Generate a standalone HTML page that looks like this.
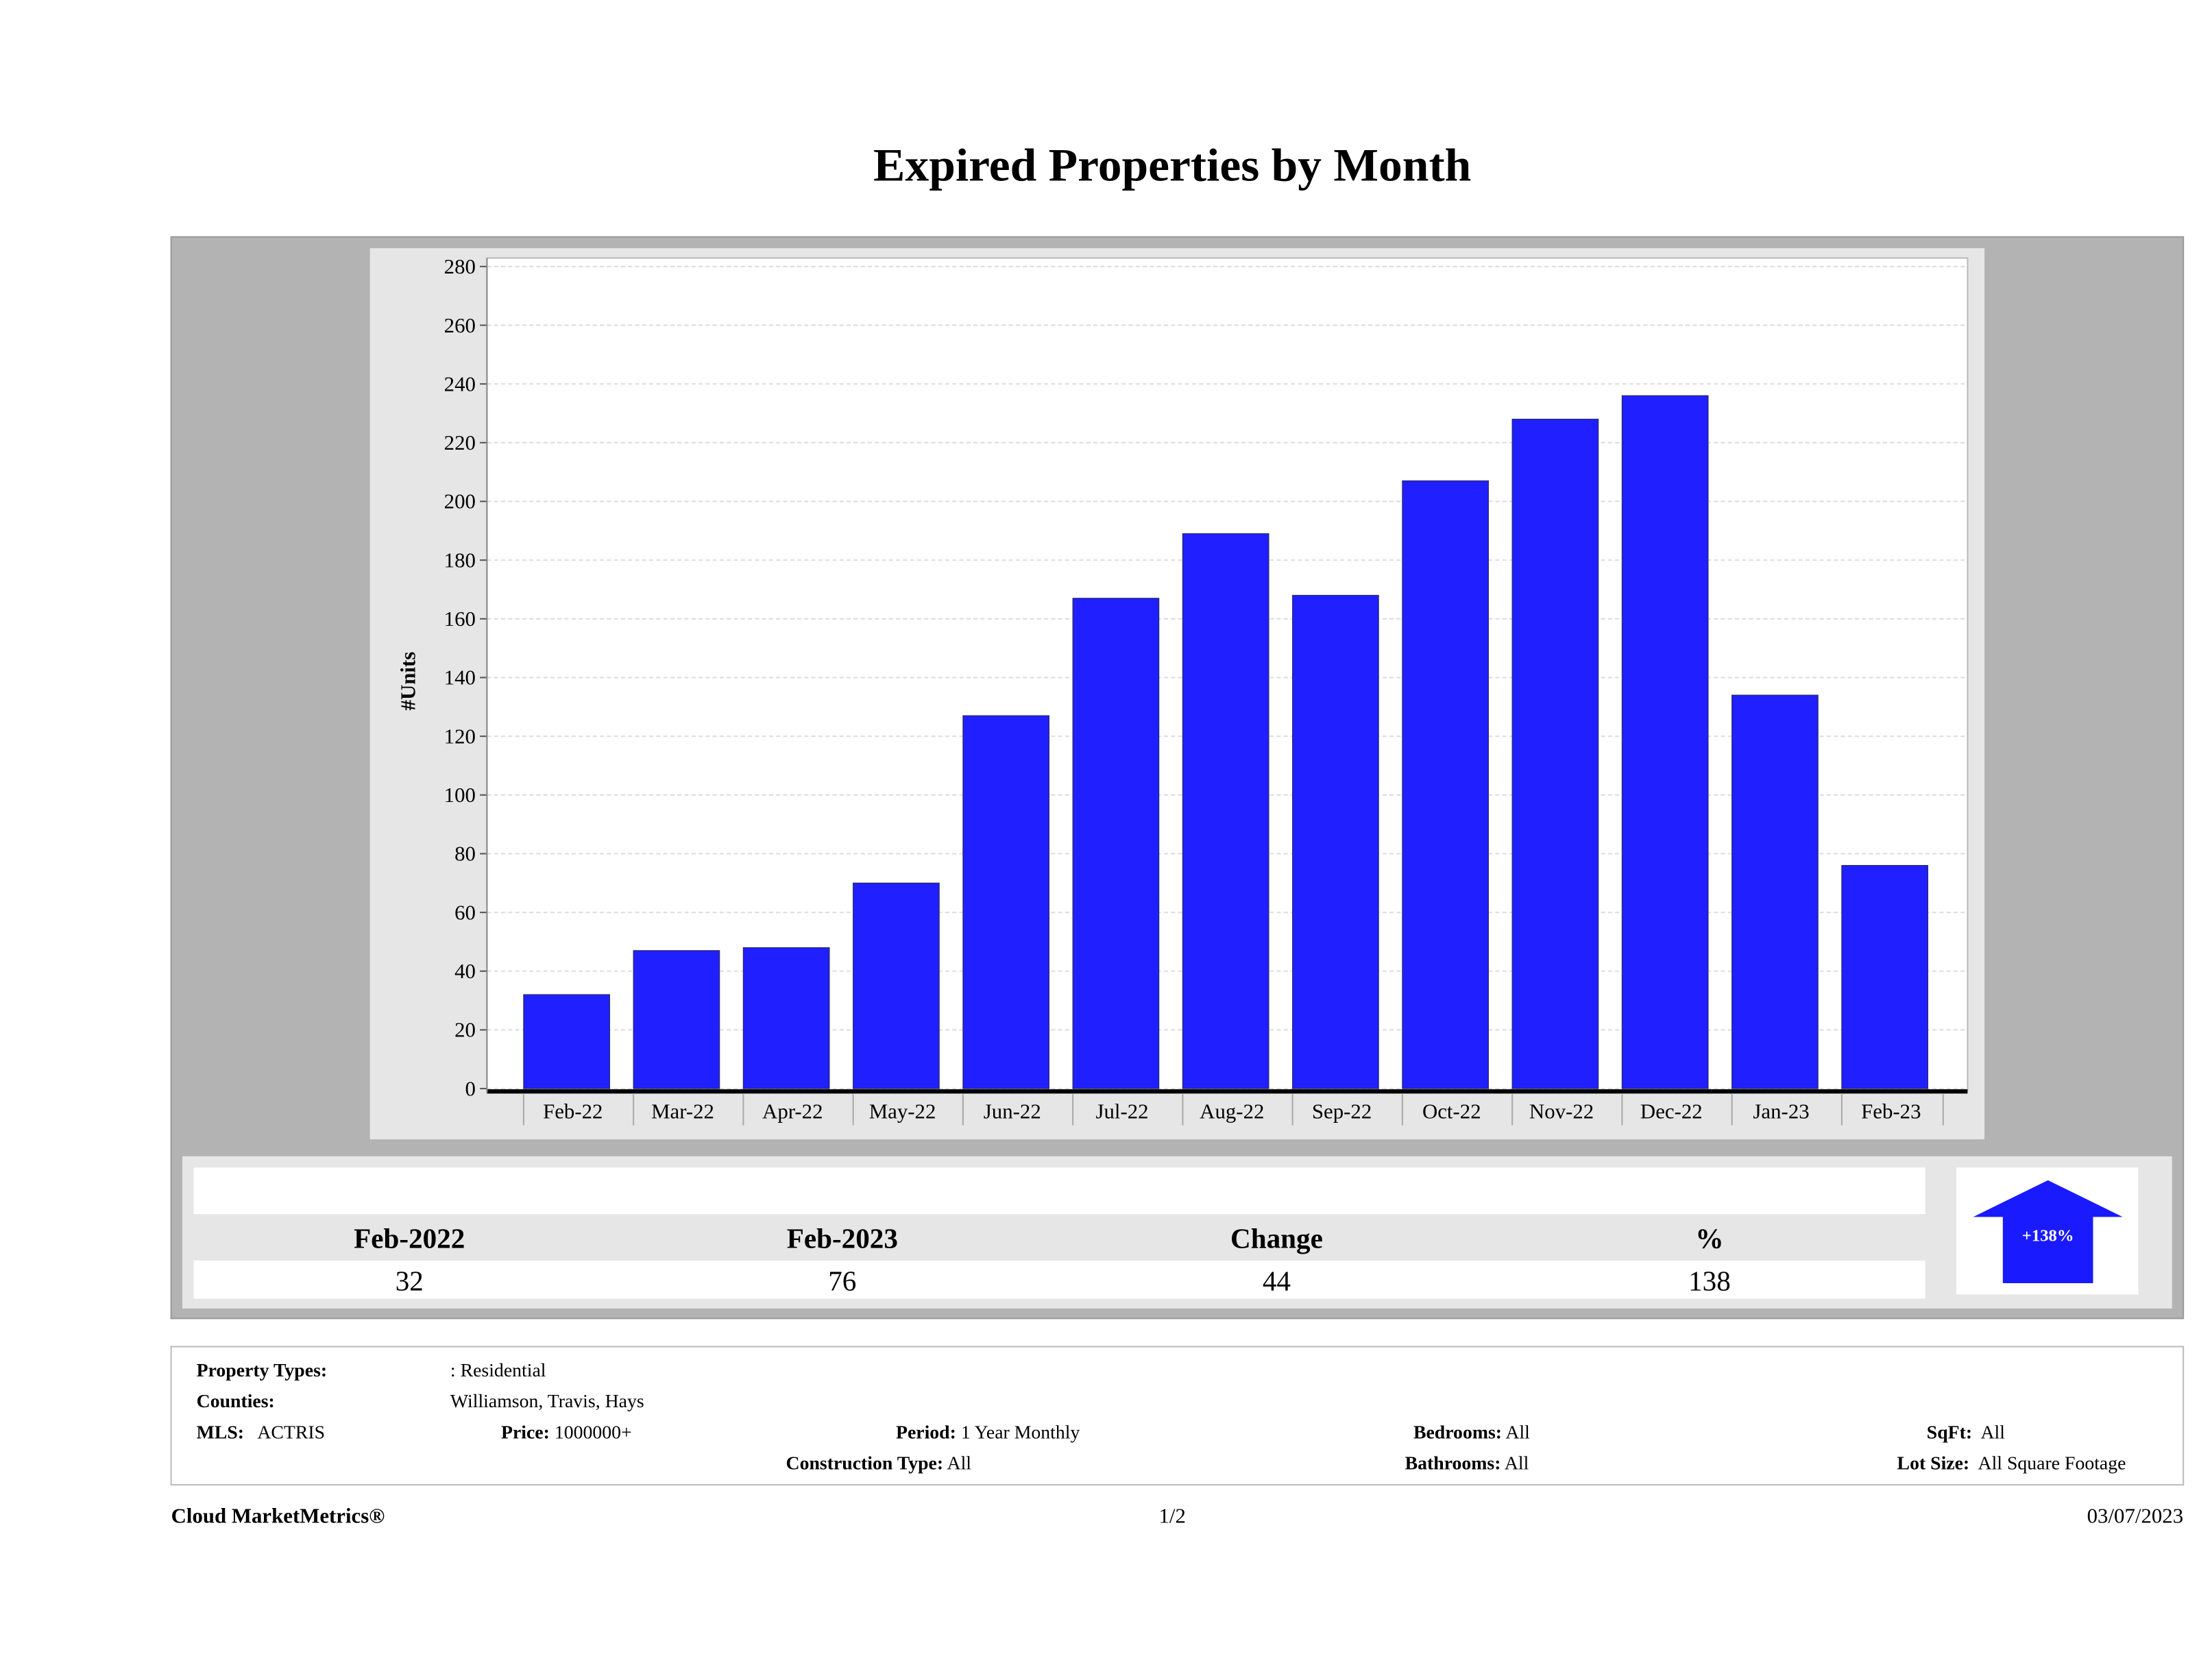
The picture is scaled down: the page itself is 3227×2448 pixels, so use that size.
<!DOCTYPE html>
<html><head><meta charset="utf-8"><style>
html,body{margin:0;padding:0;background:#fff;}
svg{display:block;font-family:"Liberation Serif",serif;}
</style></head><body>
<svg id="chart" width="3227" height="2448" viewBox="0 0 1568 1190" xmlns="http://www.w3.org/2000/svg">
<rect width="1568" height="1190" fill="#fff"/>
<text x="831" y="128" text-anchor="middle" font-size="33" font-weight="bold" textLength="424" lengthAdjust="spacingAndGlyphs">Expired Properties by Month</text>
<rect x="121" y="168" width="1427" height="767" fill="#b3b3b3" stroke="#999"/>
<rect x="262" y="176" width="1145" height="632" fill="#e6e6e6"/>
<rect x="345" y="183" width="1050" height="590" fill="#fff" stroke="#bbb"/>
<g id="grid"></g>
<g id="bars"></g>
<g id="axes"></g>
<text transform="translate(294,483) rotate(-90)" text-anchor="middle" font-size="15" font-weight="bold">#Units</text>

<rect x="129" y="820" width="1411" height="108" fill="#e6e6e6"/>
<rect x="137" y="828" width="1228" height="33" fill="#fff"/>
<rect x="137" y="894" width="1228" height="27" fill="#fff"/>
<g font-size="20" text-anchor="middle">
<text x="290" y="885" font-weight="bold">Feb-2022</text>
<text x="597" y="885" font-weight="bold">Feb-2023</text>
<text x="905" y="885" font-weight="bold">Change</text>
<text x="1212" y="885" font-weight="bold">%</text>
<text x="290" y="915">32</text>
<text x="597" y="915">76</text>
<text x="905" y="915">44</text>
<text x="1212" y="915">138</text>
</g>
<rect x="1387" y="828" width="129" height="90" fill="#fff"/>
<polygon points="1452,837 1505,863 1484,863 1484,910 1420,910 1420,863 1399,863" fill="#1a1aff"/>
<text x="1452" y="880" text-anchor="middle" font-size="12" font-weight="bold" fill="#fff">+138%</text>

<rect x="121" y="955" width="1427" height="98" fill="#fff" stroke="#bbb"/>
<g font-size="13.5">
<text x="139" y="976" font-weight="bold">Property Types:</text>
<text x="319" y="976">: Residential</text>
<text x="139" y="998" font-weight="bold">Counties:</text>
<text x="319" y="998">Williamson, Travis, Hays</text>
<text x="139" y="1020" xml:space="preserve"><tspan font-weight="bold">MLS:</tspan>   ACTRIS</text>
<text x="355" y="1020"><tspan font-weight="bold">Price:</tspan> 1000000+</text>
<text x="635" y="1020"><tspan font-weight="bold">Period:</tspan> 1 Year Monthly</text>
<text x="1002" y="1020"><tspan font-weight="bold">Bedrooms:</tspan> All</text>
<text x="1366" y="1020" xml:space="preserve"><tspan font-weight="bold">SqFt:</tspan>  All</text>
<text x="557" y="1042"><tspan font-weight="bold">Construction Type:</tspan> All</text>
<text x="996" y="1042"><tspan font-weight="bold">Bathrooms:</tspan> All</text>
<text x="1345" y="1042" xml:space="preserve"><tspan font-weight="bold">Lot Size:</tspan>  All Square Footage</text>
</g>
<g font-size="15">
<text x="121" y="1080" font-weight="bold">Cloud MarketMetrics®</text>
<text x="831" y="1080" text-anchor="middle">1/2</text>
<text x="1548" y="1080" text-anchor="end">03/07/2023</text>
</g>
</svg>
<script>
const categories=["Feb-22","Mar-22","Apr-22","May-22","Jun-22","Jul-22","Aug-22","Sep-22","Oct-22","Nov-22","Dec-22","Jan-23","Feb-23"];
const values=[32,47,48,70,127,167,189,168,207,228,236,134,76];
const yTicks=[0,20,40,60,80,100,120,140,160,180,200,220,240,260,280];
const NS="http://www.w3.org/2000/svg";
const y0=772,y1=189,ymax=280;
const yScale=v=>y0-(v/ymax)*(y0-y1);
const bandStart=366,bandW=77.9;
const xBand=i=>bandStart+bandW*i;
function mk(tag,attrs,parent){const e=document.createElementNS(NS,tag);for(const k in attrs)e.setAttribute(k,attrs[k]);parent.appendChild(e);return e;}
const grid=document.getElementById('grid'),bars=document.getElementById('bars'),axes=document.getElementById('axes');
yTicks.forEach(t=>{
  const y=yScale(t);
  const g=mk('line',{x1:345,x2:1395,y1:y,y2:y,stroke:'#ddd','stroke-dasharray':'3,2'},grid);
  
  
  const tk=mk('line',{x1:340,x2:345,y1:y,y2:y,stroke:'#555'},axes);
  
  
  const tx=mk('text',{x:337,y:y+5,'text-anchor':'end','font-size':'15'},axes);
  tx.textContent=t;
  
  
});
values.forEach((v,i)=>{
  const r=mk('rect',{x:xBand(i)+5,y:yScale(v),width:61,height:y0-yScale(v),fill:'#1f1fff',stroke:'#2a2a66','stroke-width':'0.6'},bars);
  
  
});
const ax=mk('line',{x1:345,x2:1395,y1:774,y2:774,stroke:'#000','stroke-width':'3'},axes);


const yax=mk('line',{x1:345,x2:345,y1:183,y2:775,stroke:'#888'},axes);


categories.forEach((c,i)=>{
  const x=xBand(i)+5;
  const s=mk('line',{x1:x,x2:x,y1:776,y2:798,stroke:'#aaa'},axes);
  
  
  const t=mk('text',{x:x+bandW/2-4,y:793,'text-anchor':'middle','font-size':'15'},axes);
  t.textContent=c;
  
  
});
const lx=xBand(categories.length)-1;
const last=mk('line',{x1:lx,x2:lx,y1:776,y2:798,stroke:'#aaa'},axes);


</script>
</body></html>
